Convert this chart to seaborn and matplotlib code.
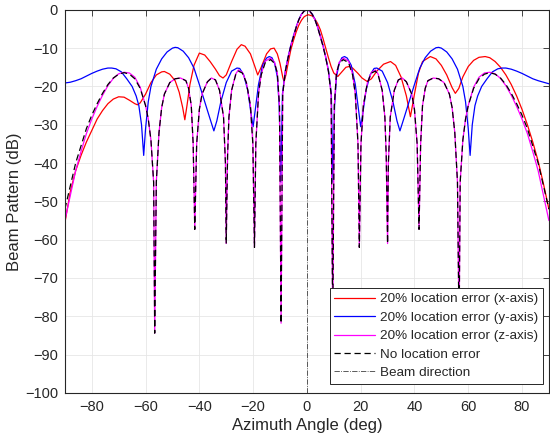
import numpy as np
import pandas as pd
import matplotlib
matplotlib.use("Agg")
import matplotlib.pyplot as plt
import seaborn as sns

# %% Data (azimuth in deg, beam pattern in dB)
ang_nominal = [-90, -88, -86, -84, -82, -80, -78, -76, -74, -72, -70, -68, -66, -64, -62,
               -60, -59, -58, -57, -56.6, -56, -55, -54, -53, -51, -49, -47, -45, -44,
               -43, -42.3, -41.7, -41, -40, -39, -37, -35.5, -34, -32.5, -31, -30.3, -30,
               -29.5, -29, -28, -26.5, -25.5, -24, -22.5, -21, -20.1, -19.5, -19, -18, -17,
               -15.5, -13.5, -12, -11, -10.2, -9.6, -9, -8, -7, -6, -5, -4, -3, -2, -1, 0,
               1, 2, 3, 4, 5, 6, 7, 8, 9, 9.6, 10.2, 11, 12, 13.5, 15.5, 17, 18, 19, 19.5,
               20.1, 21, 22.5, 24, 25.5, 26.5, 28, 29, 29.5, 30, 30.3, 31, 32.5, 34, 35.5,
               37, 39, 40, 41, 41.7, 42.3, 43, 44, 45, 47, 49, 51, 53, 54, 55, 56, 56.6, 57,
               58, 59, 60, 62, 64, 66, 68, 70, 72, 74, 76, 78, 80, 82, 84, 86, 88, 90]
db_nominal = [-52, -46, -40, -35.5, -31, -27.5, -24.5, -21.8, -19.5, -17.8, -16.8, -16.4, -16.8, -18, -20.5,
              -25, -28.5, -34, -45, -84.4, -45, -32, -25.5, -22, -19, -18, -17.8, -18.5, -20.5,
              -25, -35, -57.3, -35, -26, -22, -18.8, -17.8, -18.3, -21, -28, -40, -61,
              -38, -28, -21, -17, -16, -16.5, -19, -25, -35, -62, -35, -22, -17,
              -13.8, -13, -14, -16.5, -25, -81.8, -22, -16, -12.5, -9.5, -7, -4.6, -2.6, -1.2, -0.3, 0,
              -0.3, -1.2, -2.6, -4.6, -7, -9.5, -12.5, -16, -22, -82, -25, -16.5, -14, -13, -13.8, -17, -22, -35, -62,
              -35, -25, -19, -16.5, -16, -17, -21, -28, -38, -61, -40, -28, -21, -18.3, -17.8,
              -18.8, -22, -26, -35, -57.3, -35, -25, -20.5, -18.5, -17.8, -18, -19, -22, -25.5, -32, -45, -84, -45,
              -34, -28.5, -25, -20.5, -18, -16.8, -16.4, -16.8, -17.8, -19.5, -21.8, -24.5, -27.5, -31, -35.5, -40, -46, -52]

# z-axis error: nearly identical to the nominal pattern, outer lobes a bit narrower
db_zerr = [-55, -48.5, -42, -37, -32.3, -28.5, -25.2, -22.3, -19.8, -17.9, -16.7, -16.3, -16.5, -17.6, -20.2,
           -25, -28.5, -34, -45, -84.4, -45, -32, -25.5, -22, -19, -18, -17.8, -18.5, -20.5,
           -25, -35, -57.3, -35, -26, -22, -18.8, -17.8, -18.3, -21, -28, -40, -61,
           -38, -28, -21, -16.8, -15.7, -16.3, -19, -25, -35, -62, -35, -22, -16.8,
           -13.4, -12.6, -13.7, -16.5, -25, -81.8, -22, -16, -12.5, -9.5, -7, -4.6, -2.6, -1.2, -0.3, 0,
           -0.3, -1.2, -2.6, -4.6, -7, -9.5, -12.5, -16, -22, -82, -25, -16.5, -13.7, -12.6, -13.4, -16.8, -22, -35, -62,
           -35, -25, -19, -16.3, -15.7, -16.8, -21, -28, -38, -61, -40, -28, -21, -18.3, -17.8,
           -18.8, -22, -26, -35, -57.3, -35, -25, -20.5, -18.5, -17.8, -18, -19, -22, -25.5, -32, -45, -84, -45,
           -34, -28.5, -25, -20.2, -17.6, -16.5, -16.3, -16.7, -17.9, -19.8, -22.3, -25.2, -28.5, -32.3, -37, -42, -48.5, -55]

ang_xerr = [-90, -88, -86, -84, -82, -80, -78, -76, -74, -72, -70, -68, -66, -64, -63, -62, -60,
            -58, -56, -54, -53, -51, -49, -47.5, -46.2, -45.4, -44.6, -43.5, -42, -40, -38, -36,
            -34, -32.5, -31.2, -30, -28, -26, -24.4, -23, -21, -19.5, -18.3, -17, -15, -13.5,
            -12.2, -11, -10, -9, -8.5, -7.8, -7, -6, -5, -4, -3, -2, -1, 0, 0.6, 2, 3, 4, 5,
            6, 7, 8, 9, 10, 11.5, 13, 14.5, 15.7, 17, 19, 20.5, 22.4, 24, 26, 28.5, 31.1, 33,
            35, 37, 38.5, 40, 41.5, 43, 45.9, 48, 50, 52, 54, 55.2, 56.5, 58, 60, 62, 64, 66.3,
            68, 70, 72, 74, 76, 78, 80, 82, 84, 86, 88, 90]
db_xerr = [-55.6, -47.5, -42, -38, -34.5, -31.5, -28.5, -26.3, -24.5, -23.3, -22.7, -22.8, -23.6, -24.5, -24.8, -24.3, -22,
           -19, -17, -16.2, -16.1, -16.8, -18.5, -21.5, -25.5, -28.7, -25, -19.5, -14.5, -11.3, -11.8, -13.5,
           -15.5, -17.2, -17.8, -17, -13.5, -10.3, -9.1, -9.5, -11.5, -14.5, -17, -15, -11.5, -10.2,
           -10, -11.5, -14, -17.5, -18.8, -17, -14, -10.5, -8, -5.8, -4, -2.7, -1.8, -1.4, -1.3, -1.6, -2.4, -3.6, -5.2,
           -7.5, -10, -12.5, -14.8, -16.5, -17.4, -16.2, -15, -14.8, -15.2, -16.6, -17.8, -18.7, -18, -16, -14.2, -13.5, -14.5,
           -17.5, -22.5, -27.9, -22, -16.5, -13.5, -12.2, -12.8, -14.5, -17, -20.3, -21.8, -20.5, -17.5, -14.8, -13.2, -12.4, -12.2,
           -12.5, -13.5, -15, -17, -19.5, -22.5, -26, -30, -34.5, -39.5, -45.5, -52]

ang_yerr = [-90, -88, -86, -84, -82, -80, -78, -76, -74, -72.6, -71, -69, -67, -65, -63.5, -62.5,
            -61.5, -60.7, -60, -59, -58, -56, -54, -52, -50, -49, -48, -46, -44, -42, -40, -38,
            -36, -34.6, -33.5, -32, -30, -28, -26, -25, -23.5, -22, -20.8, -20, -19, -18, -16.5,
            -15, -14, -13, -12, -11, -10.3, -9.7, -9.1, -8, -7, -6, -5, -4, -3, -2, -1, 0,
            1, 2, 3, 4, 5, 6, 7, 8, 9.1, 9.7, 10.3, 11, 12, 13, 14, 15, 16.5, 18, 19, 20,
            20.8, 22, 23.5, 25, 26, 28, 30, 32, 33.5, 34.6, 36, 38, 40, 42, 44, 46, 48, 49, 50,
            52, 54, 56, 58, 59, 60, 60.7, 61.5, 62.5, 63.5, 65, 67, 69, 71, 72.6, 74, 76, 78,
            80, 82, 84, 86, 88, 90]
db_yerr = [-19.1, -18.9, -18.5, -18, -17.3, -16.6, -16, -15.5, -15.2, -15.2, -15.4, -16.2, -18, -20, -22.5, -25,
           -30, -38, -31, -24, -20, -15.5, -12.8, -11, -10, -9.8, -9.9, -10.8, -12.5, -15.2, -19.5, -24,
           -28.5, -31.6, -29, -24, -19, -16, -15.2, -15.3, -17, -21, -27, -30.5, -25, -19.5, -14.5,
           -12.6, -12.2, -12.5, -14, -17.5, -25, -45, -22, -15.8, -12.3, -9.3, -6.8, -4.5, -2.5, -1.1, -0.3, 0,
           -0.3, -1.1, -2.5, -4.5, -6.8, -9.3, -12.3, -15.8, -22, -45, -25, -17.5, -14, -12.5, -12.2, -12.6, -14.5, -19.5, -25, -30.5,
           -27, -21, -17, -15.3, -15.2, -16, -19, -24, -29, -31.6, -28.5, -24, -19.5, -15.2, -12.5, -10.8, -9.9, -9.8, -10,
           -11, -12.8, -15.5, -20, -24, -31, -38, -30, -25, -22.5, -20, -18, -16.2, -15.4, -15.2, -15.2, -15.5, -16,
           -16.6, -17.3, -18, -18.5, -18.9, -19.3]

beam_dir = 0
series_labels = ['20% location error (x-axis)', '20% location error (y-axis)',
                 '20% location error (z-axis)', 'No location error', 'Beam direction']
x_ticks = list(range(-80, 81, 20))
y_ticks = list(range(-100, 1, 10))

# %% Style
sns.set_theme(style="whitegrid")
plt.rcParams['font.family'] = ['Liberation Sans', 'DejaVu Sans']
plt.rcParams['axes.edgecolor'] = '#262626'
plt.rcParams['grid.color'] = '#e6e6e6'
plt.rcParams['grid.linewidth'] = 0.6

fig = plt.figure(figsize=(5.5, 4.46), dpi=100)
ax = fig.add_axes([0.118, 0.119, 0.880, 0.859])

df_x = pd.DataFrame({'ang': ang_xerr, 'db': db_xerr})
df_y = pd.DataFrame({'ang': ang_yerr, 'db': db_yerr})
df_z = pd.DataFrame({'ang': ang_nominal, 'db': db_zerr})
df_n = pd.DataFrame({'ang': ang_nominal, 'db': db_nominal})

lw = 0.9
sns.lineplot(data=df_x, x='ang', y='db', ax=ax, color='#ff0000', lw=lw,
             sort=False, estimator=None, label=series_labels[0])
sns.lineplot(data=df_y, x='ang', y='db', ax=ax, color='#0000ff', lw=lw,
             sort=False, estimator=None, label=series_labels[1])
sns.lineplot(data=df_z, x='ang', y='db', ax=ax, color='#ff00ff', lw=lw,
             sort=False, estimator=None, label=series_labels[2])
sns.lineplot(data=df_n, x='ang', y='db', ax=ax, color='black', lw=lw,
             linestyle=(0, (5, 3)), sort=False, estimator=None, label=series_labels[3])
ax.axvline(beam_dir, color='#404040', lw=0.6, linestyle='-.', label=series_labels[4])

ax.set_xlim(-90, 90)
ax.set_ylim(-100, 0)
ax.set_xticks(x_ticks)
ax.set_yticks(y_ticks)
ax.set_xlabel('Azimuth Angle (deg)', fontsize=12, color='#262626', labelpad=3)
ax.set_ylabel('Beam Pattern (dB)', fontsize=12, color='#262626', labelpad=2)
ax.tick_params(direction='in', length=4, width=0.6, labelsize=10.5, colors='#262626',
               top=True, right=True, pad=5)
for s in ax.spines.values():
    s.set_linewidth(0.8)
    s.set_color('#262626')
ax.grid(True, color='#e6e6e6', lw=0.6)

# legend box sits a little above the bottom axis, close to the right edge
leg = ax.legend(loc='lower right', bbox_to_anchor=(0.988, 0.0235), fontsize=9.7,
                frameon=True, fancybox=False, edgecolor='#262626', framealpha=1,
                handlelength=3.0, labelspacing=0.45, borderaxespad=0.0,
                borderpad=0.35, handletextpad=0.4)
leg.get_frame().set_linewidth(0.7)
for t in leg.get_texts():
    t.set_color('#262626')

fig.savefig('out.png', dpi=100)
